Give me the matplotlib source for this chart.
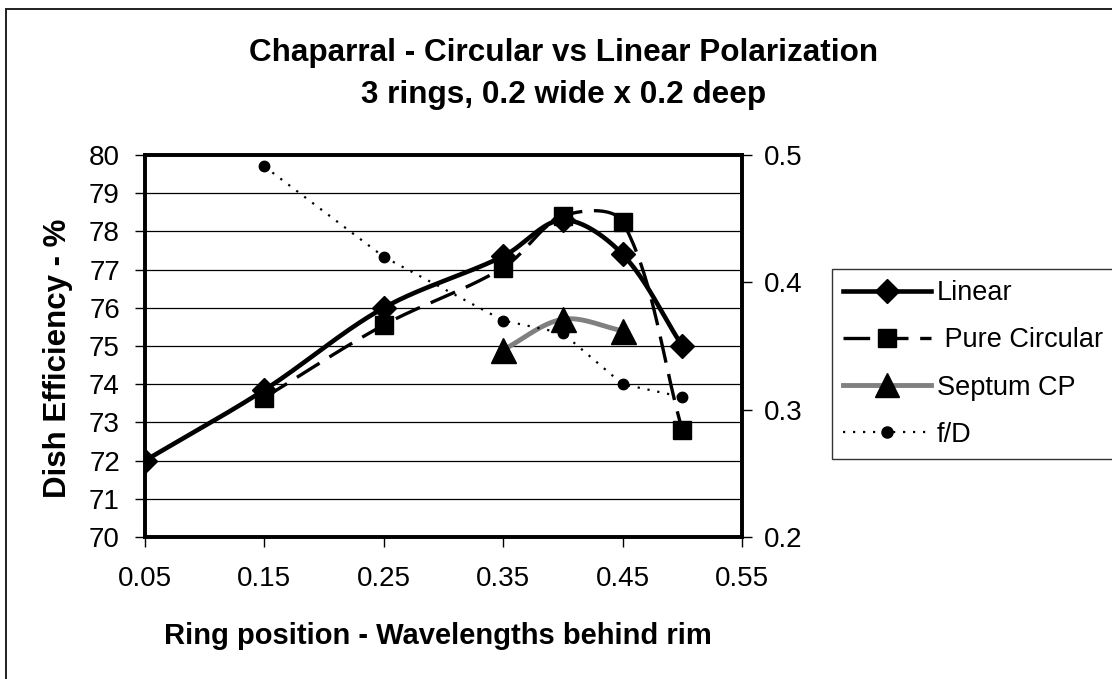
import numpy as np
import matplotlib
matplotlib.use("Agg")
import matplotlib.pyplot as plt
from matplotlib.patches import Rectangle
from matplotlib.lines import Line2D

plt.rcParams['font.family'] = ['Liberation Sans', 'DejaVu Sans']

# ring position, wavelengths behind rim
pos_linear = [0.05, 0.15, 0.25, 0.35, 0.40, 0.45, 0.50]
eff_linear = [72.0, 73.85, 76.0, 77.35, 78.3, 77.4, 75.0]

pos_circular = [0.15, 0.25, 0.35, 0.40, 0.45, 0.50]
eff_circular = [73.65, 75.55, 77.05, 78.4, 78.25, 72.8]

pos_septum = [0.35, 0.40, 0.45]
eff_septum = [74.9, 75.7, 75.4]

pos_fd = [0.15, 0.25, 0.35, 0.40, 0.45, 0.50]
f_over_d = [0.491, 0.42, 0.37, 0.36, 0.32, 0.31]

x_ticks = [0.05, 0.15, 0.25, 0.35, 0.45, 0.55]
x_ticklabels = ["0.05", "0.15", "0.25", "0.35", "0.45", "0.55"]
fd_ticks = [0.2, 0.3, 0.4, 0.5]
fd_ticklabels = ["0.2", "0.3", "0.4", "0.5"]

# screen scale of the plot area (px per data unit), used for smoothing
XSCALE = 597 / 0.5
YSCALE = 382 / 10.0


def smooth(x, y, n=40):
    """Bezier smoothing through every point, tangents weighted by chord length."""
    p = np.column_stack([np.asarray(x) * XSCALE, np.asarray(y) * YSCALE])
    if len(p) < 3:
        return np.asarray(x), np.asarray(y)
    ext = np.vstack([p[0], p, p[-1]])
    t = np.linspace(0, 1, n)[:, None]
    out = []
    for i in range(1, len(ext) - 2):
        p0, p1, p2, p3 = ext[i - 1], ext[i], ext[i + 1], ext[i + 2]
        d01 = np.hypot(*(p1 - p0))
        d12 = np.hypot(*(p2 - p1))
        d23 = np.hypot(*(p3 - p2))
        c1 = p1 + (p2 - p0) * d12 / max(d01 + d12, 1e-9) / 3.0
        c2 = p2 - (p3 - p1) * d12 / max(d12 + d23, 1e-9) / 3.0
        seg = ((1 - t) ** 3) * p1 + 3 * ((1 - t) ** 2) * t * c1 \
            + 3 * (1 - t) * t ** 2 * c2 + t ** 3 * p2
        out.append(seg if i == 1 else seg[1:])
    out = np.vstack(out)
    return out[:, 0] / XSCALE, out[:, 1] / YSCALE


fig = plt.figure(figsize=(11.12, 6.79), dpi=100)
ax = fig.add_axes([145 / 1112, 1 - 537 / 679, 597 / 1112, 382 / 679])
ax2 = ax.twinx()

# outer chart frame (runs off the right and bottom edges)
fig.patches.append(Rectangle((6 / 1112, -0.05), 1.2, 1 - 9 / 679 + 0.05,
                             transform=fig.transFigure, fill=False,
                             edgecolor="#202020", linewidth=1.4, zorder=0))

for yv in range(71, 80):
    ax.axhline(yv, color="black", linewidth=0.9, zorder=1)

lin_style = dict(color="black", linewidth=3.3)
circ_style = dict(color="black", linewidth=2.4, dashes=(8, 3.5))
sept_style = dict(color="#808080", linewidth=3.5)
fd_style = dict(color="black", linewidth=1.6, dashes=(1, 3.5))

sx, sy = smooth(pos_linear, eff_linear)
ax.plot(sx, sy, zorder=3, **lin_style)
ax.plot(pos_linear, eff_linear, linestyle="none", marker="D",
        markersize=12, color="black", zorder=4)

sx, sy = smooth(pos_circular, eff_circular)
ax.plot(sx, sy, zorder=3, **circ_style)
ax.plot(pos_circular, eff_circular, linestyle="none", marker="s",
        markersize=13.5, color="black", zorder=4)

sx, sy = smooth(pos_septum, eff_septum)
ax.plot(sx, sy, zorder=3, **sept_style)
ax.plot(pos_septum, eff_septum, linestyle="none", marker="^",
        markersize=18, color="black", zorder=4)

ax2.plot(pos_fd, f_over_d, marker="o", markersize=7.5, zorder=5, **fd_style)

ax.set_xlim(0.05, 0.55)
ax.set_ylim(70, 80)
ax2.set_ylim(0.2, 0.5)
ax.set_xticks(x_ticks)
ax.set_xticklabels(x_ticklabels)
ax.set_yticks(range(70, 81))
ax2.set_yticks(fd_ticks)
ax2.set_yticklabels(fd_ticklabels)

for a in (ax, ax2):
    for s in a.spines.values():
        s.set_linewidth(2.6)
        s.set_color("black")
    a.tick_params(direction="out", length=7, width=1, labelsize=20,
                  colors="black")
ax.tick_params(axis="y", pad=11)
ax.tick_params(axis="x", pad=14)
ax2.tick_params(axis="y", pad=8.5)

fig.text(564 / 1112, 1 - 53 / 679, "Chaparral - Circular vs Linear Polarization",
         ha="center", va="center", fontsize=22.7, fontweight="bold")
fig.text(564 / 1112, 1 - 95 / 679, "3 rings, 0.2 wide x 0.2 deep",
         ha="center", va="center", fontsize=22.7, fontweight="bold")
fig.text(438 / 1112, 1 - 636 / 679, "Ring position - Wavelengths behind rim",
         ha="center", va="center", fontsize=21, fontweight="bold")
fig.text(58 / 1112, 1 - 358 / 679, "Dish Efficiency - %", rotation=90,
         ha="center", va="center", fontsize=22.5, fontweight="bold")

handles = [
    Line2D([], [], marker="D", markersize=12, **lin_style),
    Line2D([], [], marker="s", markersize=13.5, **circ_style),
    Line2D([], [], marker="^", markerfacecolor="black",
           markeredgecolor="black", markersize=17, **sept_style),
    Line2D([], [], marker="o", markersize=8, **fd_style),
]
labels = ["Linear", " Pure Circular", "Septum CP", "f/D"]
leg = fig.legend(handles, labels, loc="upper left",
                 bbox_to_anchor=(832 / 1112, 1 - 269 / 679),
                 frameon=True, fancybox=False, edgecolor="black",
                 fontsize=19.5, handlelength=3.25, handletextpad=0.2,
                 labelspacing=0.78, borderpad=0.42, borderaxespad=0)
leg.get_frame().set_linewidth(1.0)

fig.savefig("out.png", dpi=100)
